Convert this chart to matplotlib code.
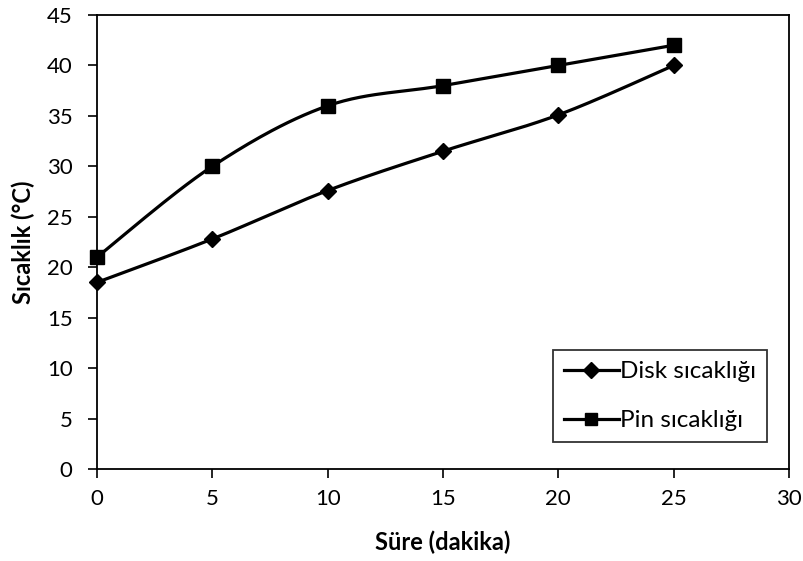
import numpy as np
import matplotlib
matplotlib.use("Agg")
import matplotlib.pyplot as plt

plt.rcParams['font.family'] = ['Lato', 'DejaVu Sans']

time_min = [0, 5, 10, 15, 20, 25]
disk_temp = [18.5, 22.8, 27.6, 31.5, 35.1, 40.0]
pin_temp = [21.0, 30.0, 36.0, 38.0, 40.0, 42.0]
x_ticks = [0, 5, 10, 15, 20, 25, 30]
y_ticks = [0, 5, 10, 15, 20, 25, 30, 35, 40, 45]


def smooth_curve(x, y, n=30):
    """Catmull-Rom style cubic Bezier smoothing through every point."""
    pts = np.column_stack([x, y]).astype(float)
    ext = np.vstack([pts[0], pts, pts[-1]])
    out = [pts[0]]
    t = np.linspace(0, 1, n)[1:, None]
    for i in range(1, len(ext) - 2):
        p0, p1, p2, p3 = ext[i - 1], ext[i], ext[i + 1], ext[i + 2]
        c1 = p1 + (p2 - p0) / 6.0
        c2 = p2 - (p3 - p1) / 6.0
        seg = ((1 - t) ** 3) * p1 + 3 * ((1 - t) ** 2) * t * c1 \
            + 3 * (1 - t) * t ** 2 * c2 + t ** 3 * p2
        out.extend(seg)
    out = np.array(out)
    return out[:, 0], out[:, 1]


LW = 2.3

fig = plt.figure(figsize=(8.04, 5.61), dpi=100)
ax = fig.add_axes([97 / 804, 1 - 469 / 561, (789 - 97) / 804, (469 - 15) / 561])

sx, sy = smooth_curve(time_min, disk_temp)
ax.plot(sx, sy, color='black', lw=LW, solid_capstyle='butt')
sx, sy = smooth_curve(time_min, pin_temp)
ax.plot(sx, sy, color='black', lw=LW, solid_capstyle='butt')

ax.plot(time_min, disk_temp, ls='none', marker='D', ms=8, color='black',
        clip_on=False, zorder=3)
ax.plot(time_min, pin_temp, ls='none', marker='s', ms=10, color='black',
        clip_on=False, zorder=3)

# legend handles combine line and marker
h1, = ax.plot([], [], color='black', lw=LW, marker='D', ms=8)
h2, = ax.plot([], [], color='black', lw=LW, marker='s', ms=9)
leg = ax.legend([h1, h2], ['Disk sıcaklığı', 'Pin sıcaklığı'],
                loc='lower right', bbox_to_anchor=(0.968, 0.059),
                fontsize=17.5, frameon=True, fancybox=False,
                edgecolor='black', handlelength=2.25, handletextpad=0.05,
                labelspacing=1.15, borderpad=0.45, borderaxespad=0)
leg.get_frame().set_linewidth(1.3)

ax.set_xlim(0, 30)
ax.set_ylim(0, 45)
ax.set_xticks(x_ticks)
ax.set_yticks(y_ticks)
ax.tick_params(axis='both', labelsize=16, direction='out', length=6.5,
               width=1.2)
ax.tick_params(axis='x', pad=8)
ax.tick_params(axis='y', pad=11)
for s in ax.spines.values():
    s.set_linewidth(1.3)

ax.set_xlabel('Süre (dakika)', fontsize=17, fontweight='bold')
ax.set_ylabel('Sıcaklık (°C)', fontsize=17, fontweight='bold')
ax.xaxis.set_label_coords(0.5, (469 - 542) / 454)
ax.xaxis.label.set_va('center')
ax.yaxis.set_label_coords((23 - 97) / 692, 0.5)
ax.yaxis.label.set_va('center')

fig.savefig('out.png', dpi=100)
